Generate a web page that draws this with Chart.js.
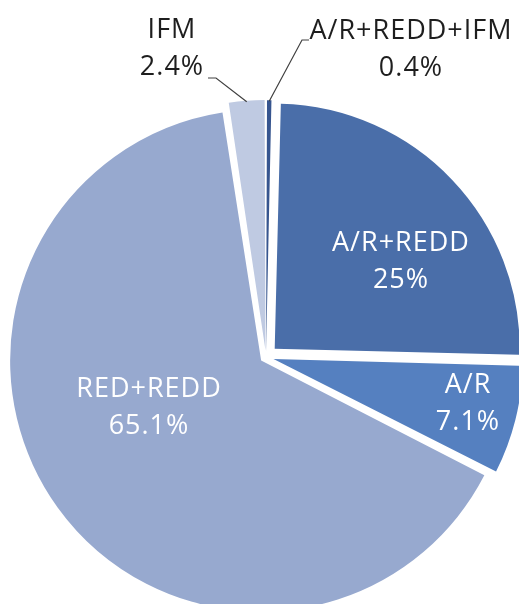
<!DOCTYPE html>
<html>
<head>
<meta charset="utf-8">
<script src="https://cdn.jsdelivr.net/npm/chart.js@4/dist/chart.umd.min.js"></script>
<style>
  body { margin: 0; background: #fff; }
  canvas { display: block; }
</style>
</head>
<body>
<canvas id="share" width="519" height="604"></canvas>
<script>
// project types and their share (%)
var categories = ['A/R+REDD+IFM', 'A/R+REDD', 'A/R', 'RED+REDD', 'IFM'];
var shares = [0.4, 25, 7.1, 65.1, 2.4];
var shareLabels = ['0.4%', '25%', '7.1%', '65.1%', '2.4%'];

var colors = ['#36558f', '#4a6ea9', '#5580c0', '#97a9cf', '#bfcae2'];

// where each label sits: inside slices (white) or outside with a leader line
var labelSpots = [
    { x: 411, y: 39, color: '#1e1e1e', leader: [[309, 40], [302, 40]] },
    { x: 401, y: 251, color: '#ffffff' },
    { x: 468, y: 393, color: '#ffffff' },
    { x: 149, y: 397, color: '#ffffff' },
    { x: 172, y: 38, color: '#1e1e1e', leader: [[208, 78], [216, 78]] }
];

var sliceLabels = {
    id: 'sliceLabels',
    afterDatasetsDraw: function (chart) {
        var ctx = chart.ctx;
        var arcs = chart.getDatasetMeta(0).data;
        ctx.save();
        ctx.font = '27px "Open Sans"';
        ctx.letterSpacing = '1px';
        ctx.textAlign = 'center';
        ctx.textBaseline = 'alphabetic';
        arcs.forEach(function (arc, i) {
            var spot = labelSpots[i];
            ctx.fillStyle = spot.color;
            ctx.fillText(categories[i], spot.x, spot.y);
            ctx.fillText(shareLabels[i], spot.x, spot.y + 37);
            if (spot.leader) {
                // end of the leader on the slice's outer edge
                var p = arc.getProps(['x', 'y', 'startAngle', 'endAngle', 'outerRadius']);
                var mid = (p.startAngle + p.endAngle) / 2;
                var circ = p.endAngle - p.startAngle;
                var off = (arc.options.offset || 0) / 4 * (2 - Math.sin(Math.min(Math.PI, circ)));
                var ex = p.x + Math.cos(mid) * (off + p.outerRadius - 1);
                var ey = p.y + Math.sin(mid) * (off + p.outerRadius - 1);
                ctx.strokeStyle = '#404040';
                ctx.lineWidth = 1.2;
                ctx.beginPath();
                ctx.moveTo(spot.leader[0][0], spot.leader[0][1]);
                ctx.lineTo(spot.leader[1][0], spot.leader[1][1]);
                ctx.lineTo(ex, ey);
                ctx.stroke();
            }
        });
        ctx.restore();
    }
};

var share = new Chart(document.getElementById('share').getContext('2d'), {
    type: 'pie',
    data: {
        labels: categories,
        datasets: [{
            data: shares,
            backgroundColor: colors,
            borderWidth: 0,
            offset: [24, 48, 31, 24, 26]
        }]
    },
    options: {
        responsive: false,
        animation: false,
        radius: 245,
        rotation: 0,
        layout: { padding: { left: 13, top: 110, right: 0, bottom: 0 } },
        plugins: {
            legend: { display: false },
            tooltip: { enabled: false }
        }
    },
    plugins: [sliceLabels]
});
</script>
</body>
</html>
